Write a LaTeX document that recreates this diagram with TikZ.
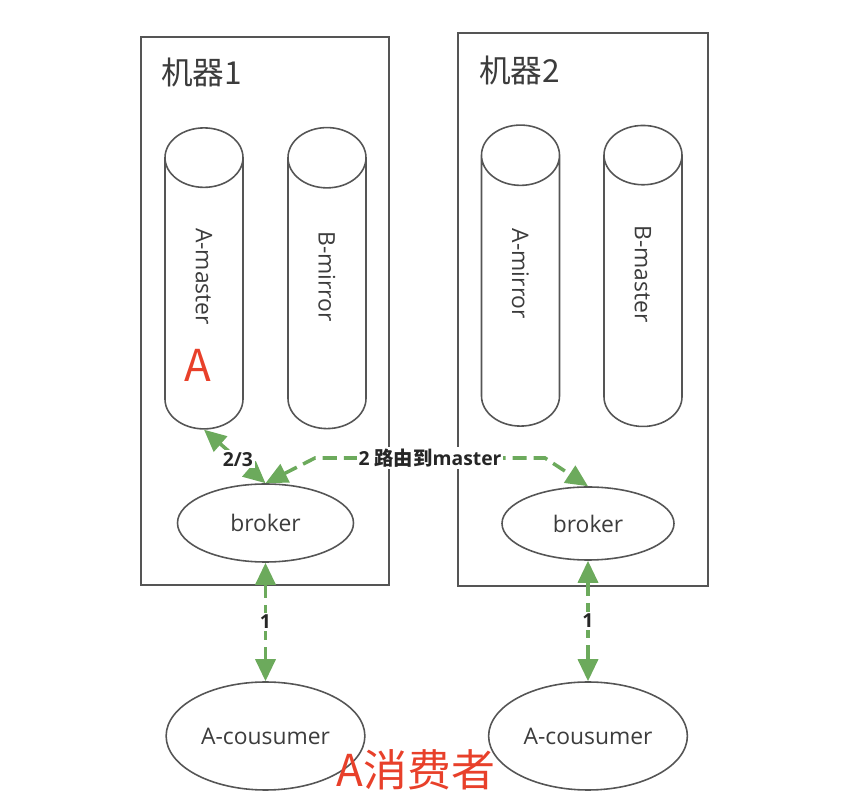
\documentclass[tikz,border=0pt]{standalone}
\usepackage{fontspec}
\setmainfont{Open Sans}
\newfontfamily\cjk{Noto Sans CJK SC}
\usetikzlibrary{shapes.geometric,arrows.meta}

\definecolor{linegray}{RGB}{85,85,85}
\definecolor{textgray}{RGB}{60,60,60}
\definecolor{arrowgreen}{RGB}{108,170,92}
\definecolor{notered}{RGB}{232,64,42}

\tikzset{
  machine/.style={draw=linegray, line width=1.1pt},
  title/.style={anchor=west, text=textgray, font=\cjk\fontsize{18}{20}\selectfont},
  store/.style={cylinder, draw=linegray, line width=0.9pt,
    shape border rotate=180, rotate=-90,
    minimum width=1.56cm, minimum height=6.02cm, aspect=2.1,
    execute at end node={\hspace*{1cm}},
    text=textgray, font=\fontsize{13}{15}\selectfont},
  svc/.style={ellipse, draw=linegray, line width=0.9pt, text=textgray,
    font=\fontsize{13}{15}\selectfont},
  link/.style={arrowgreen, line width=2pt, dash pattern=on 8pt off 4pt,
    {Triangle[length=0.44cm,width=0.4cm]}-{Triangle[length=0.44cm,width=0.4cm]}},
  lbl/.style={fill=white, inner sep=1pt, text=black!85,
    font=\bfseries\fontsize{11}{13}\selectfont},
  note/.style={text=notered, font=\cjk\fontsize{25}{28}\selectfont},
}

\begin{document}
\begin{tikzpicture}
\useasboundingbox (0,0) rectangle (16.88,16.16);

% the two machines
\draw[machine] (2.82,4.46) rectangle (7.78,15.42);
\draw[machine] (9.16,4.44) rectangle (14.16,15.50);
\node[title] (title1) at (3.10,14.72) {机器1};
\node[title] (title2) at (9.46,14.76) {机器2};

% queues on each machine
\node[store] (amaster) at (4.08,10.13) {A-master};
\node[store] (bmirror) at (6.54,10.13) {B-mirror};
\node[store] (amirror) at (10.41,10.18) {A-mirror};
\node[store] (bmaster) at (12.86,10.18) {B-master};

% brokers and consumers
\node[svc, minimum width=3.52cm, minimum height=1.56cm] (broker1) at (5.31,5.70) {broker};
\node[svc, minimum width=3.44cm, minimum height=1.46cm] (broker2) at (11.76,5.69) {broker};
\node[svc, minimum width=3.96cm, minimum height=2.16cm] (consumer1) at (5.31,1.44) {A-cousumer};
\node[svc, minimum width=3.96cm, minimum height=2.16cm] (consumer2) at (11.76,1.44) {A-cousumer};

% green connectors
\coordinate (rl) at (6.30,7.00);
\coordinate (rr) at (10.90,7.00);
\draw[link] (amaster.bottom) -- node[lbl, pos=0.55] {2/3} (broker1.north);
\draw[link] (broker1.north) -- (rl) -- node[lbl] {2 {\cjk 路由到}master} (rr) -- (broker2.north);
\draw[link] (broker1.south) -- node[lbl] {1} (consumer1.north);
\draw[link] (broker2.south) -- node[lbl] {1} (consumer2.north);

% red notes
\node[note] (markA) at (3.96,8.86) {A};
\node[note] (noteA) at (8.32,0.76) {A消费者};
\end{tikzpicture}
\end{document}
